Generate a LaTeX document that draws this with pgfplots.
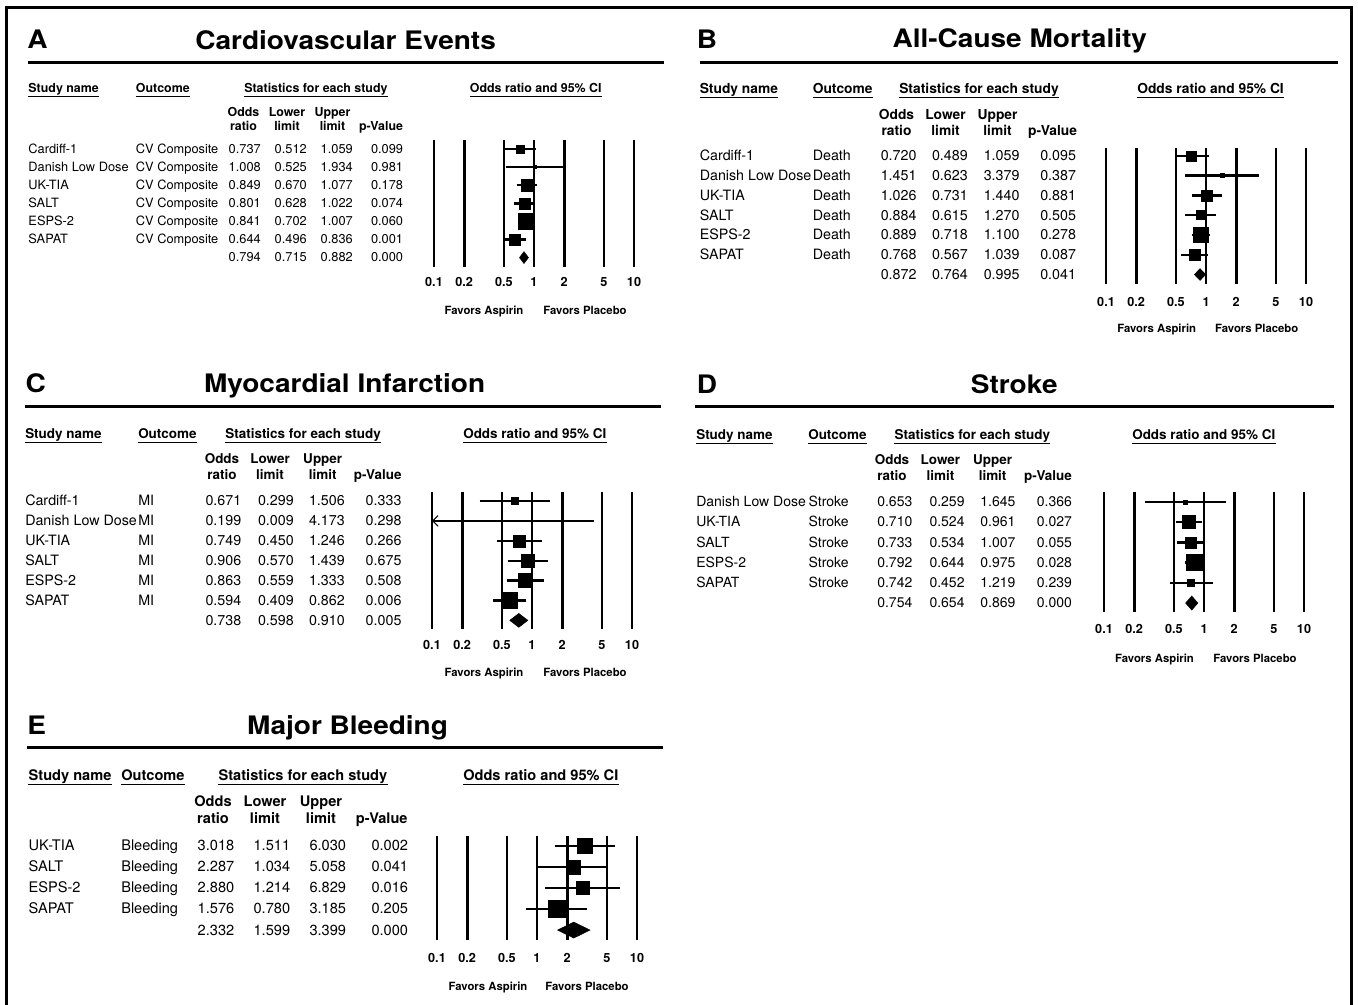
\documentclass[border=0pt]{standalone}
\usepackage{fontspec}
\setmainfont{TeX Gyre Heros}
\newfontfamily\titlefam{TeX Gyre Heros}[FakeStretch=1.1]
\usepackage{pgfplots}
\pgfplotsset{compat=1.18}
\usetikzlibrary{arrows.meta}

\newcommand\fsz[1]{\fontsize{#1}{#1}\selectfont}
\newcommand\titlefont{\titlefam\bfseries\fsz{19.1pt}}
\newcommand\ticfont{\bfseries\fsz{9.5pt}}
\newcommand\favfont{\bfseries\fsz{8.5pt}}

\newcommand\ci[3]{\addplot[black, line width=1.8pt] coordinates {(#2,#1) (#3,#1)};}
\newcommand\sq[3]{\addplot[black, only marks, mark=square*, mark size=#3] coordinates {(#2,#1)};}

\newcommand\trow[7]{%
  \node[anchor=base west, font=\df] at (\cN,#1) {#2};
  \node[anchor=base west, font=\df] at (\cO,#1) {#3};
  \node[anchor=base east, font=\df] at (\cA,#1) {#4};
  \node[anchor=base east, font=\df] at (\cB,#1) {#5};
  \node[anchor=base east, font=\df] at (\cC,#1) {#6};
  \node[anchor=base east, font=\df] at (\cD,#1) {#7};}
\newcommand\hdr[3]{%
  \node[anchor=base west, font=\hf] (h) at (#1,#2) {#3};
  \draw[line width=0.9pt] ([yshift=-3pt]h.base west) -- ([yshift=-3pt]h.base east);}
\newcommand\subh[6]{%
  \node[anchor=base, font=\hf] at (#3,#1) {Odds};
  \node[anchor=base, font=\hf] at (#3,#2) {ratio};
  \node[anchor=base, font=\hf] at (#4,#1) {Lower};
  \node[anchor=base, font=\hf] at (#4,#2) {limit};
  \node[anchor=base, font=\hf] at (#5,#1) {Upper};
  \node[anchor=base, font=\hf] at (#5,#2) {limit};
  \node[anchor=base, font=\hf] at (#6,#2) {p-Value};}

\begin{document}
\begin{tikzpicture}[x=0.75pt, y=-0.75pt]
\path[use as bounding box] (0,0) rectangle (1358,1004);
\begin{scope}[every node/.style={inner sep=0pt}]
% frame
\draw[line width=2.2pt] (6.5,1012) -- (6.5,7.5) -- (1351.5,7.5) -- (1351.5,1012);

% ================= Panel A text =================
\def\df{\fsz{9.6pt}}\def\hf{\bfseries\fsz{9.3pt}}
\def\cN{28.2}\def\cO{135.7}\def\cA{261}\def\cB{307}\def\cC{353}\def\cD{403.3}
\node[anchor=base west, font=\titlefont] at (27,48) {A};
\node[anchor=base, font=\titlefont] at (345.6,49) {Cardiovascular Events};
\draw[line width=2.25pt] (28,62.5) -- (663.5,62.5);
\hdr{28.2}{92.7}{Study name}
\hdr{135.7}{92.7}{Outcome}
\hdr{244}{92.7}{Statistics for each study}
\hdr{469.6}{92.7}{Odds ratio and 95\% CI}
\subh{116}{130}{243.5}{287}{332.5}{381}
\trow{153.3}{Cardiff-1}{CV Composite}{0.737}{0.512}{1.059}{0.099}
\trow{171.4}{Danish Low Dose}{CV Composite}{1.008}{0.525}{1.934}{0.981}
\trow{189.5}{UK-TIA}{CV Composite}{0.849}{0.670}{1.077}{0.178}
\trow{207.6}{SALT}{CV Composite}{0.801}{0.628}{1.022}{0.074}
\trow{225.7}{ESPS-2}{CV Composite}{0.841}{0.702}{1.007}{0.060}
\trow{243.8}{SAPAT}{CV Composite}{0.644}{0.496}{0.836}{0.001}
\trow{261.9}{}{}{0.794}{0.715}{0.882}{0.000}
\node[anchor=base, font=\favfont] at (484,314.8) {Favors Aspirin};
\node[anchor=base, font=\favfont] at (585,314.8) {Favors Placebo};

% ================= Panel B text =================
\def\df{\fsz{10.7pt}}\def\hf{\bfseries\fsz{10.35pt}}
\def\cN{699.5}\def\cO{812.5}\def\cA{916.7}\def\cB{968}\def\cC{1019.7}\def\cD{1076.2}
\node[anchor=base west, font=\titlefont] at (696.5,48.3) {B};
\node[anchor=base, font=\titlefont] at (1019.8,47.7) {All-Cause Mortality};
\draw[line width=2.25pt] (699.5,62.5) -- (1338,62.5);
\hdr{699.5}{93.3}{Study name}
\hdr{812.5}{93.3}{Outcome}
\hdr{899}{93.3}{Statistics for each study}
\hdr{1137}{93.3}{Odds ratio and 95\% CI}
\subh{119.3}{135}{896.5}{945.5}{997.5}{1052.5}
\trow{160.7}{Cardiff-1}{Death}{0.720}{0.489}{1.059}{0.095}
\trow{180.5}{Danish Low Dose}{Death}{1.451}{0.623}{3.379}{0.387}
\trow{200.2}{UK-TIA}{Death}{1.026}{0.731}{1.440}{0.881}
\trow{220.0}{SALT}{Death}{0.884}{0.615}{1.270}{0.505}
\trow{239.8}{ESPS-2}{Death}{0.889}{0.718}{1.100}{0.278}
\trow{259.5}{SAPAT}{Death}{0.768}{0.567}{1.039}{0.087}
\trow{279.3}{}{}{0.872}{0.764}{0.995}{0.041}
\node[anchor=base, font=\favfont] at (1156.7,332.1) {Favors Aspirin};
\node[anchor=base, font=\favfont] at (1256.7,332.1) {Favors Placebo};

% ================= Panel C text =================
\def\df{\fsz{10.7pt}}\def\hf{\bfseries\fsz{10.1pt}}
\def\cN{25}\def\cO{138}\def\cA{241.5}\def\cB{294}\def\cC{345}\def\cD{401.7}
\node[anchor=base west, font=\titlefont] at (25.3,392.7) {C};
\node[anchor=base, font=\titlefont] at (344.6,392.7) {Myocardial Infarction};
\draw[line width=2.25pt] (25,406.7) -- (661,406.7);
\hdr{25}{438.3}{Study name}
\hdr{138}{438.3}{Outcome}
\hdr{225}{438.3}{Statistics for each study}
\hdr{463}{438.3}{Odds ratio and 95\% CI}
\subh{463.3}{479.3}{222}{270}{322.7}{377.7}
\trow{505.7}{Cardiff-1}{MI}{0.671}{0.299}{1.506}{0.333}
\trow{525.6}{Danish Low Dose}{MI}{0.199}{0.009}{4.173}{0.298}
\trow{545.5}{UK-TIA}{MI}{0.749}{0.450}{1.246}{0.266}
\trow{565.4}{SALT}{MI}{0.906}{0.570}{1.439}{0.675}
\trow{585.3}{ESPS-2}{MI}{0.863}{0.559}{1.333}{0.508}
\trow{605.2}{SAPAT}{MI}{0.594}{0.409}{0.862}{0.006}
\trow{625.1}{}{}{0.738}{0.598}{0.910}{0.005}
\node[anchor=base, font=\favfont] at (484,676.8) {Favors Aspirin};
\node[anchor=base, font=\favfont] at (585,676.8) {Favors Placebo};

% ================= Panel D text =================
\def\df{\fsz{10.5pt}}\def\hf{\bfseries\fsz{10.1pt}}
\def\cN{696}\def\cO{808.3}\def\cA{912.6}\def\cB{964.8}\def\cC{1015.7}\def\cD{1072.2}
\node[anchor=base west, font=\titlefont] at (696.5,393.3) {D};
\node[anchor=base, font=\titlefont] at (1014.2,393.3) {Stroke};
\draw[line width=2.25pt] (695.2,406.7) -- (1333.5,406.7);
\hdr{696}{439.3}{Study name}
\hdr{808}{439.3}{Outcome}
\hdr{894.3}{439.3}{Statistics for each study}
\hdr{1132}{439.3}{Odds ratio and 95\% CI}
\subh{464.3}{480}{892}{940.4}{992.6}{1048}
\trow{506.7}{Danish Low Dose}{Stroke}{0.653}{0.259}{1.645}{0.366}
\trow{526.9}{UK-TIA}{Stroke}{0.710}{0.524}{0.961}{0.027}
\trow{547.1}{SALT}{Stroke}{0.733}{0.534}{1.007}{0.055}
\trow{567.3}{ESPS-2}{Stroke}{0.792}{0.644}{0.975}{0.028}
\trow{587.5}{SAPAT}{Stroke}{0.742}{0.452}{1.219}{0.239}
\trow{607.7}{}{}{0.754}{0.654}{0.869}{0.000}
\node[anchor=base, font=\favfont] at (1154.5,662.1) {Favors Aspirin};
\node[anchor=base, font=\favfont] at (1255,662.1) {Favors Placebo};

% ================= Panel E text =================
\def\df{\fsz{10.95pt}}\def\hf{\bfseries\fsz{10.95pt}}
\def\cN{28.4}\def\cO{121}\def\cA{234.5}\def\cB{290.4}\def\cC{346.3}\def\cD{408.3}
\node[anchor=base west, font=\titlefont] at (27,734.3) {E};
\node[anchor=base, font=\titlefont] at (347.6,734) {Major Bleeding};
\draw[line width=2.25pt] (27,747.3) -- (663,747.3);
\hdr{28.4}{780.7}{Study name}
\hdr{121}{780.7}{Outcome}
\hdr{218.3}{780.7}{Statistics for each study}
\hdr{463}{780.7}{Odds ratio and 95\% CI}
\subh{806.7}{823.3}{213}{265}{321}{381.7}
\trow{850.7}{UK-TIA}{Bleeding}{3.018}{1.511}{6.030}{0.002}
\trow{871.8}{SALT}{Bleeding}{2.287}{1.034}{5.058}{0.041}
\trow{892.9}{ESPS-2}{Bleeding}{2.880}{1.214}{6.829}{0.016}
\trow{913.9}{SAPAT}{Bleeding}{1.576}{0.780}{3.185}{0.205}
\trow{935.0}{}{}{2.332}{1.599}{3.399}{0.000}
\node[anchor=base, font=\favfont] at (488,990.8) {Favors Aspirin};
\node[anchor=base, font=\favfont] at (587,990.8) {Favors Placebo};

\coordinate (pA) at (434,140);
\coordinate (pB) at (1106,148);
\coordinate (pC) at (432,491.7);
\coordinate (pD) at (1104,491.7);
\coordinate (pE) at (437,835.7);
\end{scope}

% ================= Forest plots (log10 odds-ratio axis) =================
\begin{axis}[scale only axis, anchor=north west, at={(pA)}, width=150pt, height=95.25pt,
  xmin=-1, xmax=1, ymin=0.503, ymax=7.52, y dir=reverse,
  x filter/.expression={log10(x)},
  axis line style={draw=none}, ytick=\empty,
  xtick={-1,-0.69897,-0.30103,0,0.30103,0.69897,1}, xticklabels={0.1,0.2,0.5,1,2,5,10},
  major tick length=0pt, xmajorgrids, grid style={black, line width=2.1pt}, clip=false,
  xticklabel style={font=\ticfont, inner sep=0pt, anchor=north, yshift=-7.6pt}]
\ci{1}{0.512}{1.059}\sq{1}{0.737}{3pt}
\ci{2}{0.525}{1.934}\sq{2}{1.008}{1.1pt}
\ci{3}{0.670}{1.077}\sq{3}{0.849}{4.5pt}
\ci{4}{0.628}{1.022}\sq{4}{0.801}{4.1pt}
\ci{5}{0.702}{1.007}\sq{5}{0.841}{6pt}
\ci{6}{0.496}{0.836}\sq{6}{0.644}{4.1pt}
\addplot[black, fill=black, line width=0.3pt] coordinates {(0.715,7) (0.794,6.67) (0.882,7) (0.794,7.33) (0.715,7)};
\end{axis}

\begin{axis}[scale only axis, anchor=north west, at={(pB)}, width=150pt, height=102pt,
  xmin=-1, xmax=1, ymin=0.60, ymax=7.48, y dir=reverse,
  x filter/.expression={log10(x)},
  axis line style={draw=none}, ytick=\empty,
  xtick={-1,-0.69897,-0.30103,0,0.30103,0.69897,1}, xticklabels={0.1,0.2,0.5,1,2,5,10},
  major tick length=0pt, xmajorgrids, grid style={black, line width=2.1pt}, clip=false,
  xticklabel style={font=\ticfont, inner sep=0pt, anchor=north, yshift=-9.9pt}]
\ci{1}{0.489}{1.059}\sq{1}{0.720}{3.75pt}
\ci{2}{0.623}{3.379}\sq{2}{1.451}{1.5pt}
\ci{3}{0.731}{1.440}\sq{3}{1.026}{4.1pt}
\ci{4}{0.615}{1.270}\sq{4}{0.884}{3.4pt}
\ci{5}{0.718}{1.100}\sq{5}{0.889}{5.6pt}
\ci{6}{0.567}{1.039}\sq{6}{0.768}{4.1pt}
\addplot[black, fill=black, line width=0.3pt] coordinates {(0.764,7) (0.872,6.7) (0.995,7) (0.872,7.3) (0.764,7)};
\end{axis}

\begin{axis}[scale only axis, anchor=north west, at={(pC)}, width=150pt, height=103.2pt,
  xmin=-1, xmax=1, ymin=0.53, ymax=7.45, y dir=reverse,
  x filter/.expression={log10(x)},
  axis line style={draw=none}, ytick=\empty,
  xtick={-1,-0.69897,-0.30103,0,0.30103,0.69897,1}, xticklabels={0.1,0.2,0.5,1,2,5,10},
  major tick length=0pt, xmajorgrids, grid style={black, line width=2.1pt}, clip=false,
  xticklabel style={font=\ticfont, inner sep=0pt, anchor=north, yshift=-8.4pt}]
\ci{1}{0.299}{1.506}\sq{1}{0.671}{2.6pt}
\addplot[black, line width=1.8pt, {Straight Barb[length=4pt, width=8pt, line width=0.8pt]}-] coordinates {(0.1,2) (4.173,2)};
\sq{2}{0.199}{0.75pt}
\ci{3}{0.450}{1.246}\sq{3}{0.749}{4.5pt}
\ci{4}{0.570}{1.439}\sq{4}{0.906}{4.9pt}
\ci{5}{0.559}{1.333}\sq{5}{0.863}{5.25pt}
\ci{6}{0.409}{0.862}\sq{6}{0.594}{6pt}
\addplot[black, fill=black, line width=0.3pt] coordinates {(0.598,7) (0.738,6.65) (0.910,7) (0.738,7.35) (0.598,7)};
\end{axis}

\begin{axis}[scale only axis, anchor=north west, at={(pD)}, width=150pt, height=90pt,
  xmin=-1, xmax=1, ymin=0.49, ymax=6.43, y dir=reverse,
  x filter/.expression={log10(x)},
  axis line style={draw=none}, ytick=\empty,
  xtick={-1,-0.69897,-0.30103,0,0.30103,0.69897,1}, xticklabels={0.1,0.2,0.5,1,2,5,10},
  major tick length=0pt, xmajorgrids, grid style={black, line width=2.1pt}, clip=false,
  xticklabel style={font=\ticfont, inner sep=0pt, anchor=north, yshift=-9.6pt}]
\ci{1}{0.259}{1.645}\sq{1}{0.653}{1.5pt}
\ci{2}{0.524}{0.961}\sq{2}{0.710}{4.9pt}
\ci{3}{0.534}{1.007}\sq{3}{0.733}{4.1pt}
\ci{4}{0.644}{0.975}\sq{4}{0.792}{6pt}
\ci{5}{0.452}{1.219}\sq{5}{0.742}{2.6pt}
\addplot[black, fill=black, line width=0.3pt] coordinates {(0.654,6) (0.754,5.65) (0.869,6) (0.754,6.35) (0.654,6)};
\end{axis}

\begin{axis}[scale only axis, anchor=north west, at={(pE)}, width=150pt, height=78.2pt,
  xmin=-1, xmax=1, ymin=0.52, ymax=5.47, y dir=reverse,
  x filter/.expression={log10(x)},
  axis line style={draw=none}, ytick=\empty,
  xtick={-1,-0.69897,-0.30103,0,0.30103,0.69897,1}, xticklabels={0.1,0.2,0.5,1,2,5,10},
  major tick length=0pt, xmajorgrids, grid style={black, line width=2.1pt}, clip=false,
  xticklabel style={font=\ticfont, inner sep=0pt, anchor=north, yshift=-9.9pt}]
\ci{1}{1.511}{6.030}\sq{1}{3.018}{5.6pt}
\ci{2}{1.034}{5.058}\sq{2}{2.287}{5.25pt}
\ci{3}{1.214}{6.829}\sq{3}{2.880}{4.9pt}
\ci{4}{0.780}{3.185}\sq{4}{1.576}{6.4pt}
\addplot[black, fill=black, line width=0.3pt] coordinates {(1.599,5) (2.332,4.62) (3.399,5) (2.332,5.38) (1.599,5)};
\end{axis}
\end{tikzpicture}
\end{document}
